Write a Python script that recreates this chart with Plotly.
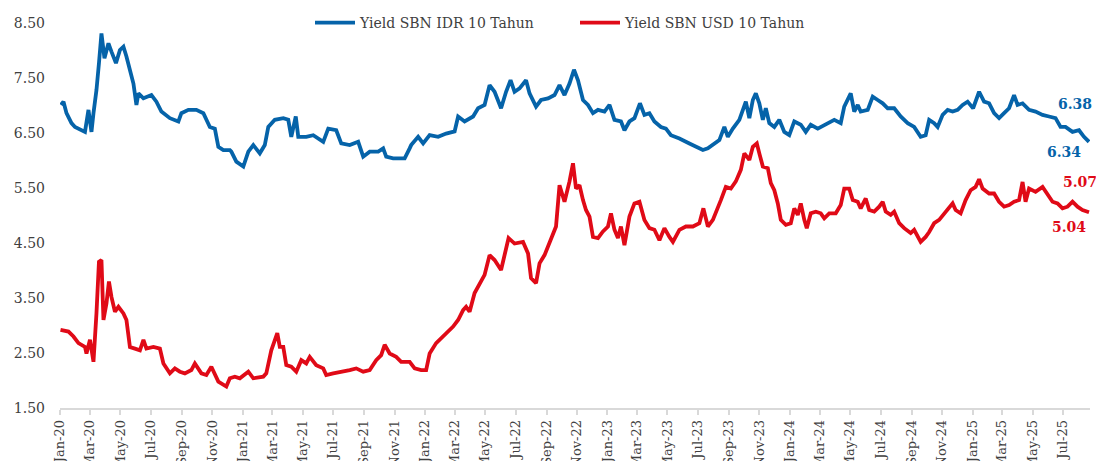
import plotly.graph_objects as go

# ---------------- data ----------------
idr_dates = [
    "2020-01-03","2020-01-08","2020-01-14","2020-01-24","2020-01-31","2020-02-07","2020-02-20","2020-02-27",
    "2020-03-04","2020-03-08","2020-03-14","2020-03-19","2020-03-24","2020-03-30","2020-04-07","2020-04-13",
    "2020-04-22","2020-04-30","2020-05-07","2020-05-13","2020-05-20","2020-05-27","2020-06-02","2020-06-06",
    "2020-06-16","2020-07-02","2020-07-12","2020-07-22","2020-08-08","2020-08-25","2020-08-31","2020-09-14",
    "2020-09-30","2020-10-14","2020-10-27","2020-11-06","2020-11-13","2020-11-23","2020-12-06","2020-12-09",
    "2020-12-19","2021-01-02","2021-01-12","2021-01-22","2021-02-04","2021-02-14","2021-02-21","2021-03-06",
    "2021-03-23","2021-04-02","2021-04-08","2021-04-17","2021-04-22","2021-05-08","2021-05-22","2021-06-11",
    "2021-06-21","2021-07-07","2021-07-17","2021-08-03","2021-08-20","2021-08-30","2021-09-12","2021-09-29",
    "2021-10-09","2021-10-15","2021-10-29","2021-11-14","2021-11-21","2021-12-01","2021-12-04","2021-12-18",
    "2021-12-28","2022-01-10","2022-01-27","2022-02-12","2022-03-01","2022-03-08","2022-03-21","2022-04-07",
    "2022-04-17","2022-04-30","2022-05-10","2022-05-20","2022-06-02","2022-06-12","2022-06-21","2022-06-29",
    "2022-07-09","2022-07-22","2022-07-29","2022-08-11","2022-08-21","2022-09-04","2022-09-17","2022-09-27",
    "2022-10-07","2022-10-17","2022-10-26","2022-11-03","2022-11-13","2022-11-23","2022-12-03","2022-12-13",
    "2022-12-26","2023-01-05","2023-01-15","2023-01-28","2023-02-04","2023-02-14","2023-02-24","2023-03-07",
    "2023-03-16","2023-03-26","2023-04-05","2023-04-18","2023-04-28","2023-05-08","2023-05-25","2023-06-14",
    "2023-06-27","2023-07-11","2023-07-21","2023-08-03","2023-08-13","2023-08-23","2023-08-30","2023-09-09",
    "2023-09-22","2023-10-05","2023-10-12","2023-10-19","2023-10-25","2023-11-01","2023-11-08","2023-11-14",
    "2023-11-21","2023-12-01","2023-12-11","2023-12-21","2023-12-31","2024-01-10","2024-01-23","2024-02-02",
    "2024-02-12","2024-02-26","2024-03-10","2024-03-30","2024-04-12","2024-04-19","2024-05-02","2024-05-09",
    "2024-05-16","2024-05-22","2024-06-05","2024-06-15","2024-06-25","2024-07-05","2024-07-15","2024-07-28",
    "2024-08-10","2024-08-24","2024-09-06","2024-09-19","2024-09-29","2024-10-06","2024-10-16","2024-10-23",
    "2024-11-02","2024-11-12","2024-11-22","2024-12-02","2024-12-12","2024-12-22","2025-01-02","2025-01-14",
    "2025-01-24","2025-02-03","2025-02-13","2025-02-23","2025-03-05","2025-03-15","2025-03-25","2025-04-01",
    "2025-04-11","2025-04-24","2025-05-07","2025-05-21","2025-06-03","2025-06-16","2025-06-26","2025-07-06",
    "2025-07-20","2025-08-02","2025-08-12","2025-08-22",
]
idr_values = [
    7.01,7.07,6.86,6.68,6.61,6.58,6.52,6.92,
    6.52,6.86,7.28,7.77,8.31,7.86,8.13,7.98,
    7.77,8.01,8.07,7.89,7.65,7.40,7.01,7.22,
    7.13,7.19,7.07,6.89,6.77,6.71,6.86,6.92,
    6.92,6.86,6.61,6.58,6.25,6.19,6.19,6.16,
    5.98,5.89,6.16,6.28,6.13,6.28,6.61,6.74,
    6.77,6.74,6.43,6.80,6.43,6.43,6.46,6.34,
    6.58,6.55,6.31,6.28,6.34,6.07,6.16,6.16,
    6.22,6.07,6.04,6.04,6.04,6.22,6.28,6.43,
    6.31,6.46,6.43,6.49,6.53,6.80,6.71,6.80,
    6.95,7.01,7.37,7.25,6.95,7.25,7.46,7.25,
    7.31,7.46,7.22,6.98,7.10,7.13,7.19,7.37,
    7.19,7.40,7.65,7.46,7.10,7.01,6.86,6.92,
    6.89,7.01,6.74,6.71,6.55,6.71,6.77,7.04,
    6.83,6.86,6.71,6.61,6.58,6.46,6.40,6.31,
    6.25,6.19,6.22,6.31,6.37,6.61,6.43,6.58,
    6.74,7.07,6.77,7.10,7.22,7.04,6.74,6.95,
    6.68,6.61,6.74,6.52,6.46,6.71,6.65,6.52,
    6.65,6.58,6.65,6.74,6.68,6.98,7.22,6.89,
    7.01,6.89,6.92,7.16,7.10,7.04,6.95,6.95,
    6.80,6.68,6.61,6.43,6.46,6.74,6.68,6.61,
    6.83,6.92,6.89,6.92,7.01,7.07,6.95,7.25,
    7.07,7.04,6.86,6.77,6.86,6.95,7.19,7.01,
    7.04,6.92,6.89,6.83,6.80,6.77,6.61,6.61,
    6.52,6.55,6.43,6.34,
]

usd_dates = [
    "2020-01-02","2020-01-18","2020-01-28","2020-02-07","2020-02-20","2020-02-23","2020-03-01","2020-03-08",
    "2020-03-14","2020-03-19","2020-03-24","2020-03-28","2020-04-03","2020-04-08","2020-04-13","2020-04-20",
    "2020-04-27","2020-05-07","2020-05-13","2020-05-20","2020-05-30","2020-06-09","2020-06-16","2020-06-22",
    "2020-07-06","2020-07-19","2020-07-26","2020-08-08","2020-08-18","2020-08-28","2020-09-07","2020-09-20",
    "2020-09-27","2020-10-10","2020-10-20","2020-10-30","2020-11-13","2020-11-29","2020-12-06","2020-12-16",
    "2020-12-26","2021-01-12","2021-01-22","2021-02-11","2021-02-17","2021-02-27","2021-03-11","2021-03-16",
    "2021-03-23","2021-03-29","2021-04-08","2021-04-18","2021-04-28","2021-05-08","2021-05-15","2021-05-28",
    "2021-06-11","2021-06-17","2021-07-01","2021-07-21","2021-08-03","2021-08-16","2021-08-30","2021-09-12",
    "2021-09-25","2021-10-05","2021-10-12","2021-10-22","2021-11-04","2021-11-14","2021-12-01","2021-12-11",
    "2021-12-24","2022-01-03","2022-01-10","2022-01-23","2022-02-02","2022-02-16","2022-02-26","2022-03-08",
    "2022-03-18","2022-03-24","2022-03-31","2022-04-10","2022-04-20","2022-04-30","2022-05-10","2022-05-20",
    "2022-06-02","2022-06-12","2022-06-17","2022-06-29","2022-07-16","2022-07-26","2022-08-01","2022-08-11",
    "2022-08-18","2022-08-28","2022-09-04","2022-09-10","2022-09-20","2022-09-27","2022-10-07","2022-10-17",
    "2022-10-24","2022-10-30","2022-11-06","2022-11-13","2022-11-19","2022-11-26","2022-12-03","2022-12-13",
    "2022-12-23","2023-01-02","2023-01-08","2023-01-15","2023-01-22","2023-01-28","2023-02-04","2023-02-14",
    "2023-02-24","2023-03-06","2023-03-16","2023-03-26","2023-04-05","2023-04-15","2023-04-25","2023-05-05",
    "2023-05-12","2023-05-25","2023-06-07","2023-06-21","2023-07-04","2023-07-12","2023-07-21","2023-07-31",
    "2023-08-06","2023-08-16","2023-08-26","2023-09-05","2023-09-15","2023-09-25","2023-10-02","2023-10-12",
    "2023-10-19","2023-10-27","2023-11-01","2023-11-08","2023-11-18","2023-11-24","2023-12-01","2023-12-08",
    "2023-12-14","2023-12-24","2024-01-03","2024-01-10","2024-01-17","2024-01-23","2024-01-30","2024-02-04",
    "2024-02-12","2024-02-22","2024-03-03","2024-03-10","2024-03-20","2024-04-02","2024-04-12","2024-04-19",
    "2024-04-29","2024-05-06","2024-05-16","2024-05-22","2024-06-01","2024-06-08","2024-06-18","2024-06-28",
    "2024-07-05","2024-07-11","2024-07-21","2024-07-28","2024-08-07","2024-08-17","2024-08-30","2024-09-06",
    "2024-09-19","2024-09-29","2024-10-06","2024-10-16","2024-10-26","2024-11-05","2024-11-15","2024-11-22",
    "2024-11-28","2024-12-08","2024-12-18","2024-12-28","2025-01-07","2025-01-14","2025-01-21","2025-02-03",
    "2025-02-13","2025-02-23","2025-03-05","2025-03-15","2025-03-25","2025-04-04","2025-04-11","2025-04-17",
    "2025-04-24","2025-05-07","2025-05-21","2025-05-31","2025-06-10","2025-06-20","2025-06-30","2025-07-10",
    "2025-07-20","2025-07-30","2025-08-09","2025-08-22",
]
usd_values = [
    2.92,2.89,2.80,2.68,2.61,2.49,2.74,2.34,
    3.22,4.16,4.19,3.10,3.40,3.80,3.52,3.25,
    3.34,3.22,3.10,2.61,2.58,2.55,2.74,2.58,
    2.61,2.58,2.31,2.13,2.22,2.16,2.13,2.19,
    2.31,2.13,2.10,2.25,1.98,1.89,2.04,2.07,
    2.04,2.16,2.04,2.07,2.13,2.55,2.86,2.61,
    2.61,2.28,2.25,2.16,2.37,2.31,2.43,2.28,
    2.22,2.10,2.13,2.16,2.19,2.22,2.16,2.19,
    2.37,2.46,2.65,2.49,2.43,2.34,2.34,2.22,
    2.19,2.19,2.49,2.68,2.77,2.89,2.98,3.10,
    3.28,3.34,3.25,3.59,3.77,3.92,4.28,4.19,
    4.01,4.37,4.59,4.49,4.52,4.31,3.86,3.77,
    4.13,4.28,4.43,4.55,4.80,5.55,5.25,5.62,
    5.95,5.49,5.55,5.28,5.10,4.98,4.61,4.59,
    4.71,4.80,5.04,4.74,4.59,4.80,4.46,4.98,
    5.22,5.25,4.92,4.77,4.74,4.55,4.77,4.61,
    4.52,4.74,4.80,4.80,4.86,5.13,4.80,4.92,
    5.07,5.28,5.52,5.49,5.62,5.83,6.13,6.01,
    6.25,6.31,6.13,5.89,5.86,5.59,5.46,5.22,
    4.92,4.83,4.86,5.13,5.01,5.22,4.92,4.77,
    5.04,5.07,5.04,4.95,5.04,5.04,5.19,5.49,
    5.49,5.28,5.25,5.13,5.31,5.10,5.07,5.16,
    5.25,5.07,5.01,5.07,4.86,4.77,4.68,4.74,
    4.52,4.61,4.70,4.86,4.92,5.04,5.16,5.22,
    5.10,5.04,5.28,5.46,5.52,5.66,5.49,5.40,
    5.40,5.25,5.16,5.19,5.25,5.28,5.61,5.25,
    5.49,5.43,5.52,5.37,5.25,5.22,5.13,5.16,
    5.25,5.16,5.10,5.06,
]

series_names = ["Yield SBN IDR 10 Tahun", "Yield SBN USD 10 Tahun"]
end_labels_idr = [6.38, 6.34]
end_labels_usd = [5.07, 5.04]

# ---------------- styling ----------------
BLUE = "#0563A9"
RED = "#E00A17"
FONT = "DejaVu Serif"
TXT = "#404040"

fig = go.Figure()
fig.add_trace(go.Scatter(x=idr_dates, y=idr_values, mode="lines", name=series_names[0],
                         line=dict(color=BLUE, width=3.8)))
fig.add_trace(go.Scatter(x=usd_dates, y=usd_values, mode="lines", name=series_names[1],
                         line=dict(color=RED, width=3.8)))

last_idr = (idr_dates[-1], idr_values[-1])
last_usd = (usd_dates[-1], usd_values[-1])
ann = [
    (last_idr, end_labels_idr[0], BLUE, -14, 38),
    (last_idr, end_labels_idr[1], BLUE, -25, -10),
    (last_usd, end_labels_usd[0], RED, -9, 30),
    (last_usd, end_labels_usd[1], RED, -20, -15),
]
for (xd, yv), txt, col, xs, ys in ann:
    fig.add_annotation(x=xd, y=yv, text=f"<b>{txt:.2f}</b>", showarrow=False,
                       xshift=xs, yshift=ys, font=dict(family=FONT, size=14, color=col))

fig.update_layout(
    width=1096, height=461,
    margin=dict(l=60, r=6, t=23, b=53),
    paper_bgcolor="white", plot_bgcolor="white",
    font=dict(family=FONT, size=13, color=TXT),
    showlegend=True,
    legend=dict(orientation="h", x=(310 - 60) / 1030, xanchor="left",
                y=1.0, yanchor="middle",
                entrywidth=210, entrywidthmode="pixels",
                font=dict(family=FONT, size=14, color=TXT), bgcolor="rgba(0,0,0,0)",
                itemwidth=40),
)
fig.update_xaxes(
    type="date", range=["2020-01-01", "2025-08-24"], automargin=False,
    tick0="2020-01-01", dtick="M2", tickformat="%b-%y", tickangle=-90,
    showgrid=False, zeroline=False,
    showline=True, linecolor="#D9D9D9", linewidth=1.5,
    ticks="outside", ticklen=5, tickcolor="#D9D9D9", tickwidth=1.5,
    tickfont=dict(family=FONT, size=13, color=TXT),
)
fig.update_yaxes(
    range=[1.5, 8.5], tick0=1.5, dtick=1, tickformat=".2f", automargin=False,
    showgrid=False, zeroline=False, showline=False, ticks="",
    ticklabelstandoff=14,
    tickfont=dict(family=FONT, size=14, color=TXT),
)

fig.write_html("out.html", config={"displayModeBar": False},
               post_script="document.body.style.margin='0';")
